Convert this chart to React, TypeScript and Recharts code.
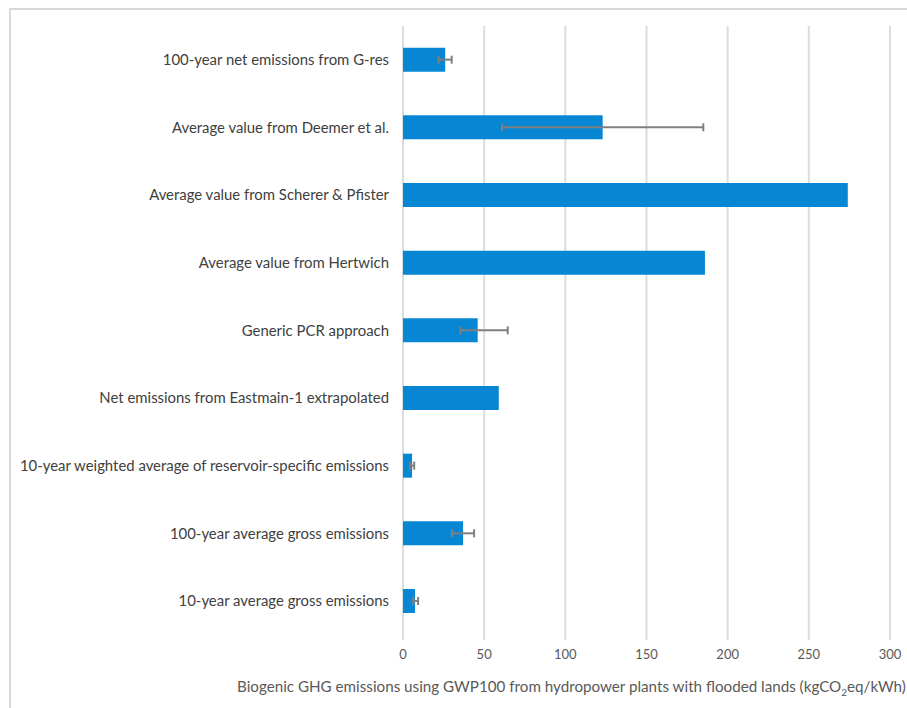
import { BarChart, Bar, XAxis, YAxis, CartesianGrid, ErrorBar, Label } from 'recharts'

const categories = [
  '100-year net emissions from G-res',
  'Average value from Deemer et al.',
  'Average value from Scherer & Pfister',
  'Average value from Hertwich',
  'Generic PCR approach',
  'Net emissions from Eastmain-1 extrapolated',
  '10-year weighted average of reservoir-specific emissions',
  '100-year average gross emissions',
  '10-year average gross emissions',
]

const emissions = [26, 123, 274, 186, 46, 59, 5.6, 37, 7.4]

const errors: (number | [number, number] | null)[] = [
  4,
  62,
  null,
  null,
  [10.5, 18.5],
  null,
  1.3,
  6.8,
  [1.2, 1.9],
]

const xTicks = [0, 50, 100, 150, 200, 250, 300]

const data = categories.map((name, i) => ({
  name,
  value: emissions[i],
  err: errors[i] ?? undefined,
}))

const font = 'Lato, "Open Sans", sans-serif'

function AxisTitle() {
  return (
    <text x={229} y={684} fill="#595959" fontSize={15.2} fontFamily={font}>
      Biogenic GHG emissions using GWP100 from hydropower plants with flooded lands (kgCO
      <tspan fontSize={10} dy={4}>2</tspan>
      <tspan dy={-4}>eq/kWh)</tspan>
    </text>
  )
}

export default function App() {
  return (
    <div style={{ position: 'relative', width: 907, height: 708, overflow: 'hidden' }}>
      <style>{'body { margin: 0; }'}</style>
      <div
        style={{
          position: 'absolute',
          left: 9,
          top: 8,
          width: 898,
          height: 700,
          borderTop: '2px solid #d9d9d9',
          borderLeft: '2px solid #d9d9d9',
          boxSizing: 'border-box',
        }}
      />
      <div style={{ position: 'absolute', left: 8, top: 8 }}>
        <BarChart
          width={899}
          height={700}
          data={data}
          layout="vertical"
          margin={{ top: 18, right: 17, bottom: 28, left: 0 }}
          barCategoryGap="32%"
        >
          <CartesianGrid horizontal={false} stroke="#dcdcdc" strokeWidth={2} />
          <XAxis
            type="number"
            domain={[0, 300]}
            ticks={xTicks}
            axisLine={false}
            tickLine={{ stroke: '#dcdcdc', strokeWidth: 2 }}
            tickSize={5}
            tickMargin={10}
            height={45}
            tick={{ fill: '#595959', fontSize: 13, fontFamily: font }}
          >
            <Label content={<AxisTitle />} />
          </XAxis>
          <YAxis
            type="category"
            dataKey="name"
            width={395}
            axisLine={false}
            tickLine={false}
            tickSize={0}
            tickMargin={14}
            interval={0}
            tick={{ fill: '#404040', fontSize: 14.9, fontFamily: font }}
          />
          <Bar dataKey="value" fill="#0787d3" isAnimationActive={false}>
            <ErrorBar dataKey="err" direction="x" width={4} stroke="#7f7f7f" strokeWidth={2} />
          </Bar>
        </BarChart>
      </div>
    </div>
  )
}
